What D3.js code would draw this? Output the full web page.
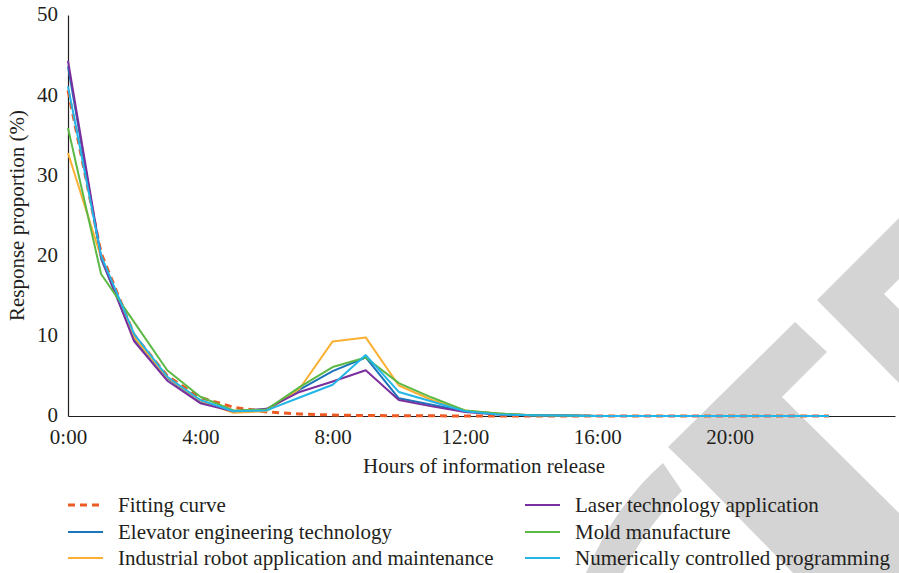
<!DOCTYPE html>
<html>
<head>
<meta charset="utf-8">
<script src="https://d3js.org/d3.v7.min.js"></script>
<style>
html,body{margin:0;padding:0;background:#fff;}
svg{display:block;}
</style>
</head>
<body>
<svg id="chart" width="899" height="573"></svg>
<script>
const hours = d3.range(0, 24);
const xTickValues = [0, 4, 8, 12, 16, 20];
const xTickLabels = ["0:00", "4:00", "8:00", "12:00", "16:00", "20:00"];
const yTickValues = [0, 10, 20, 30, 40, 50];
const seriesNames = [
  "Fitting curve",
  "Elevator engineering technology",
  "Industrial robot application and maintenance",
  "Laser technology application",
  "Mold manufacture",
  "Numerically controlled programming"
];
const seriesColors = ["#ee5a24", "#1b75bb", "#fbb034", "#7b2f9e", "#5cb946", "#22b5e6"];
const fittingCurve = [40.6, 20.3, 10.1, 5.0, 2.3, 1.1, 0.5, 0.25, 0.12, 0.06, 0.03, 0.02, 0.01, 0, 0, 0, 0, 0, 0, 0, 0, 0, 0, 0];
const elevator    = [43.6, 19.6, 9.6, 4.7, 1.8, 0.6, 0.8, 3.3, 5.6, 7.3, 2.2, 1.4, 0.6, 0.3, 0.1, 0.05, 0, 0, 0, 0, 0, 0, 0, 0];
const industrial  = [32.8, 19.8, 9.8, 4.8, 1.9, 0.4, 0.6, 3.4, 9.3, 9.8, 3.8, 2.0, 0.7, 0.3, 0.1, 0.05, 0, 0, 0, 0, 0, 0, 0, 0];
const laser       = [44.3, 19.8, 9.3, 4.4, 1.6, 0.6, 0.9, 3.0, 4.3, 5.7, 2.0, 1.2, 0.5, 0.2, 0.1, 0.05, 0, 0, 0, 0, 0, 0, 0, 0];
const mold        = [35.9, 17.7, 11.7, 5.7, 2.4, 0.7, 0.8, 3.6, 6.1, 7.3, 4.1, 2.3, 0.7, 0.3, 0.1, 0.05, 0, 0, 0, 0, 0, 0, 0, 0];
const numerical   = [41.1, 20.0, 10.2, 4.9, 2.0, 0.6, 0.7, 2.3, 3.9, 7.6, 3.0, 1.8, 0.6, 0.2, 0.1, 0.05, 0, 0, 0, 0, 0, 0, 0, 0];
const seriesValues = [fittingCurve, elevator, industrial, laser, mold, numerical];

const FONT = "'Liberation Serif', Tinos, 'Times New Roman', 'DejaVu Serif', serif";
const FS = 21;
const svg = d3.select("#chart");
const margin = {left: 68, top: 15, right: 4, bottom: 157};
const W = 899, H = 573;
const x = d3.scaleLinear().domain([0, 25]).range([margin.left, W - margin.right]);
const y = d3.scaleLinear().domain([0, 50]).range([H - margin.bottom, margin.top]);

// watermark (decorative background shapes)
const wm = svg.append("g").attr("fill", "#d4d4d4");
wm.append("path").attr("d", "M668,447 L795,322 L827,352 L782,397 L899,513 L899,573 L793,573 L700,478 Z");
wm.append("path").attr("d", "M817,300 L899,218 L899,279 L884,294 L899,309 L899,383 Z");
wm.append("path").attr("d", "M586,573 Q615,505 663,463 L682,491 Q645,528 623,573 Z");

// axes
const xAxis = d3.axisBottom(x).tickValues(xTickValues).tickFormat((d, i) => xTickLabels[i]).tickSize(0).tickPadding(13);
const gx = svg.append("g").attr("transform", `translate(0,${y(0)})`).call(xAxis);
gx.attr("font-family", FONT).attr("font-size", FS);
gx.select(".domain").attr("stroke", "#231f20").attr("stroke-width", 1.2);
gx.selectAll("text").attr("fill", "#231f20");

const yAxis = d3.axisLeft(y).tickValues(yTickValues).tickSize(0).tickPadding(10);
const gy = svg.append("g").attr("transform", `translate(${x(0)},0)`).call(yAxis);
gy.attr("font-family", FONT).attr("font-size", FS);
gy.select(".domain").attr("stroke", "#231f20").attr("stroke-width", 1.2);
gy.selectAll("text").attr("fill", "#231f20").attr("dy", "0.28em");

svg.append("text").attr("x", 484).attr("y", 473)
  .attr("font-family", FONT).attr("fill", "#231f20")
  .attr("text-anchor", "middle").attr("font-size", FS).text("Hours of information release");
svg.append("text").attr("transform", `translate(24,${(y(0) + y(50)) / 2}) rotate(-90)`)
  .attr("font-family", FONT).attr("fill", "#231f20")
  .attr("text-anchor", "middle").attr("font-size", FS).text("Response proportion (%)");

// lines
const line = d3.line().x((d, i) => x(hours[i])).y(d => y(d));
seriesValues.forEach((vals, k) => {
  svg.append("path").datum(vals)
    .attr("fill", "none")
    .attr("stroke", seriesColors[k])
    .attr("stroke-width", k === 0 ? 3 : 2)
    .attr("stroke-dasharray", k === 0 ? "7,5" : null)
    .attr("stroke-linejoin", "round")
    .attr("d", line);
});

// legend
const legendCols = [68, 525];
const legendRows = [505, 532, 558];
seriesNames.forEach((name, k) => {
  const col = Math.floor(k / 3), row = k % 3;
  const lx = legendCols[col], ly = legendRows[row];
  svg.append("line").attr("x1", lx).attr("x2", lx + 35).attr("y1", ly).attr("y2", ly)
    .attr("stroke", seriesColors[k]).attr("stroke-width", k === 0 ? 3 : 2)
    .attr("stroke-dasharray", k === 0 ? "7,5" : null);
  svg.append("text").attr("x", lx + 50).attr("y", ly + 7)
    .attr("font-family", FONT).attr("fill", "#231f20").attr("font-size", FS).text(name);
});
</script>
</body>
</html>
